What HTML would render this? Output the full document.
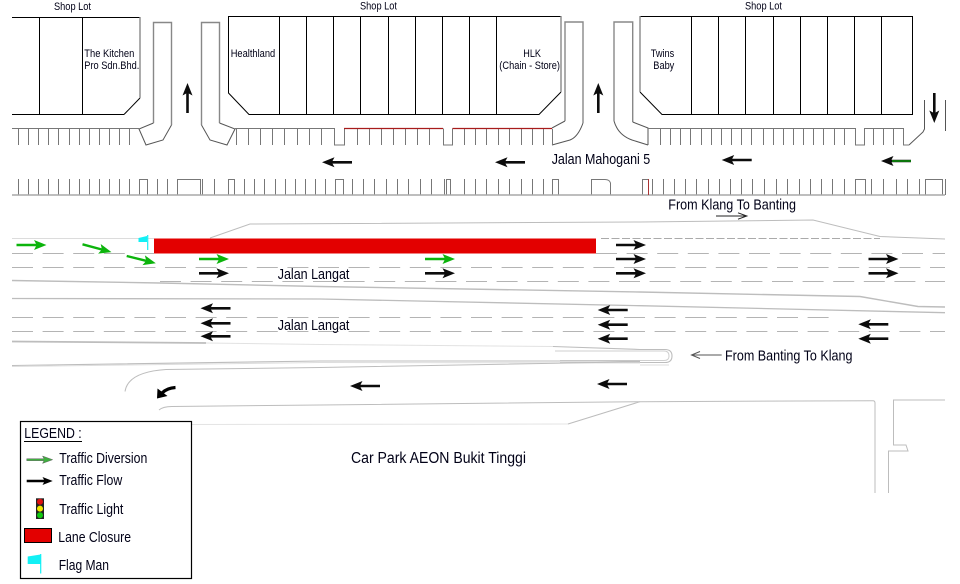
<!DOCTYPE html>
<html><head><meta charset="utf-8"><style>
html,body{margin:0;padding:0;background:#fff}
svg{display:block}
text{font-family:"Liberation Sans",Arial,sans-serif;fill:#000016}
</style></head><body>
<svg width="960" height="584" viewBox="0 0 960 584" xmlns="http://www.w3.org/2000/svg">
<defs>
<path id="k" d="M0,-1.3 H19.5 L17.5,-5 L30,0 L17.5,5 L19.5,1.3 H0 Z" fill="#0c0c0c"/>
<path id="g" d="M0,-1.2 H19.5 L17.5,-5 L30,0 L17.5,5 L19.5,1.2 H0 Z" fill="#0cb40c"/>
</defs>

<!-- shop blocks -->
<g fill="none" stroke="#000" stroke-width="1">
<path d="M12,17.5 H140 M124,114.5 H12 M39.5,17.5 V114.5 M82.5,17.5 V114.5 M140,98 L124,114.5"/>
<path d="M561,16.5 H228.5 V93 L249,114.5 H539 L561,92 M279.5,16.5 V114.5 M306.5,16.5 V114.5 M333.5,16.5 V115 M360.5,16.5 V114.5 M388.5,16.5 V114.5 M415.5,16.5 V114.5 M442.5,16.5 V114.5 M469.5,16.5 V114.5 M496.5,16.5 V114.5"/>
<path d="M640,16.5 H912.5 V114.5 H662 L640,92 M691.5,16.5 V114.5 M718.5,16.5 V114.5 M745.5,16.5 V114.5 M773.5,16.5 V114.5 M800.5,16.5 V114.5 M827.5,16.5 V114.5 M854.5,16.5 V114.5 M881.5,16.5 V114.5"/>
</g>
<g fill="none" stroke="#888" stroke-width="1.4">
<path d="M140,17 V98 M561,16 V92 M640,16 V92"/>
<path d="M153.5,123 V22.5 H171.5 V125"/>
<path d="M201.5,125 V22.5 H219.5 V123"/>
<path d="M565,121 V22 H583 V123"/>
<path d="M614,121 V22 H632.7 V122"/>
</g>
<!-- driveways -->
<g fill="none" stroke="#555" stroke-width="1">
<path d="M153.5,123 L139,129 L146,145 L163,140 L171.5,125"/>
<path d="M201.5,125 L210,140 L227,145 L235,129 L219.5,123"/>
<path d="M565,121 L552,128 M552,145 L570,140 Q578,137 583,123"/>
<path d="M614,121 Q618,135 632,140 L648,145 M632.7,122 L648,128 V145"/>
<path d="M909,145 L923,132 L924.5,129 V100 M945.5,100 V131"/>
</g>
<!-- top parking row -->
<g fill="none" stroke="#777" stroke-width="1">
<path d="M18.5,129v16M28.5,129v16M38.5,129v16M48.5,129v16M58.5,129v16M69.5,129v16M79.5,129v16M89.5,129v16M99.5,129v16M109.5,129v16M119.5,129v16M129.5,129v16"/>
<path d="M236.5,129v16M248.5,129v16M260.5,129v16M272.5,129v16M284.5,129v16M297.5,129v16M309.5,129v16M321.5,129v16"/>
<path d="M357.5,129v16M369.5,129v16M381.5,129v16M393.5,129v16M405.5,129v16M417.5,129v16M429.5,129v16"/>
<path d="M464.5,129v16M475.5,129v16M486.5,129v16M498.5,129v16M509.5,129v16M521.5,129v16M532.5,129v16M543.5,129v16M552.5,129v16"/>
<path d="M660.5,129v16M670.5,129v16M680.5,129v16M690.5,129v16M701.5,129v16M711.5,129v16M721.5,129v16M731.5,129v16M741.5,129v16M751.5,129v16M763.5,129v16M773.5,129v16M783.5,129v16M793.5,129v16M803.5,129v16M813.5,129v16M823.5,129v16M834.5,129v16M844.5,129v16"/>
<path d="M873.5,129v16M883.5,129v16M893.5,129v16"/>
<path d="M12,128.5 H139 M235,128.5 H334.5 V145 H344.5 V128.5 M443.5,128.5 V145 H452.5 V128.5 M648,128.5 H855.5 V145 H864.5 V128.5 H903.5 V145 H909"/>
</g>
<path d="M344,128.5 H443 M452.5,128.5 H552" stroke="#a81c1c" stroke-width="1.2" fill="none"/>

<!-- bottom parking row -->
<g fill="none" stroke="#777" stroke-width="1">
<path d="M18.5,179v16M28.5,179v16M38.5,179v16M48.5,179v16M58.5,179v16M69.5,179v16M79.5,179v16M89.5,179v16M99.5,179v16M109.5,179v16M119.5,179v16M129.5,179v16"/>
<path d="M157.5,179v16M167.5,179v16M214.5,179v16"/>
<path d="M244.5,179v16M254.5,179v16M264.5,179v16M275.5,179v16M285.5,179v16M295.5,179v16M305.5,179v16M315.5,179v16M325.5,179v16"/>
<path d="M352.5,179v16M363.5,179v16M374.5,179v16M386.5,179v16M397.5,179v16M408.5,179v16M420.5,179v16M431.5,179v16M444.5,179v16"/>
<path d="M464.5,179v16M475.5,179v16M486.5,179v16M498.5,179v16M509.5,179v16M521.5,179v16M532.5,179v16M543.5,179v16"/>
<path d="M652.5,179v16M663.5,179v16M674.5,179v16M685.5,179v16M696.5,179v16M708.5,179v16M719.5,179v16M730.5,179v16M741.5,179v16M752.5,179v16M764.5,179v16M776.5,179v16M787.5,179v16M799.5,179v16M810.5,179v16M821.5,179v16M832.5,179v16M844.5,179v16"/>
<path d="M871.5,179v16M883.5,179v16M896.5,179v16M907.5,179v16M919.5,179v16"/>
<path d="M139.5,195 V179.5 H147.5 V195 M177.5,195 V179.5 H200.5 V195 M202.5,179 V195 M228.5,195 V179.5 H234.5 V195 M335.5,195 V179.5 H343.5 V195 M446.5,195 V179.5 H450.5 V195 M552.5,195 V179.5 H558.5 V195 M591.5,195 V179.5 H605 Q609.5,179.5 610.5,183 V195 M642.5,195 V179.5 H648.5 V195 M855.5,195 V179.5 H865.5 V195 M925.5,195 V179.5 H942.5 V195 M945.5,179 V195"/>
</g>
<path d="M12,195 H945" stroke="#a8a8a8" stroke-width="1.6" fill="none"/>
<path d="M648.5,179 V195" stroke="#a33" stroke-width="1" fill="none"/>

<!-- road kerbs -->
<g fill="none" stroke="#bdbdbd" stroke-width="1">
<path d="M12,238.5 H154" stroke="#dcdcdc"/>
<path d="M210,238 L250,224 L640,222 L813,220 L880,236.5 L945,239"/>
<path d="M12,280.5 L160,283 L320,286.5 L640,292 L860,296.5 L918,306.5 L945,307" stroke-width="1.4"/>
<path d="M12,298.5 L320,299 L640,305.7 L945,312.7" stroke-width="1.3"/>
<path d="M12,341.5 L206,343" stroke-width="1.8"/>
<path d="M206,343 L320,344.5 L553,346.5" stroke="#e2e2e2"/>
<path d="M553,346.5 L640,349.5 H665 Q672,349.5 672,356 Q672,362.5 665,362.5 H560" stroke-width="1.1"/>
<path d="M555,351 H664 Q669,351 669,356 Q669,360.5 664,360.5 H560" stroke="#cfcfcf"/>
<path d="M640,365 H669" stroke="#dcdcdc"/>
<path d="M12,365.5 L320,361 L640,361" stroke-width="1.1"/>
<path d="M12,366.5 L320,362.5 L640,363" stroke="#dedede"/>
<path d="M125,391.5 Q128,372 166,369.5 L320,367.5 L640,361.7"/>
<path d="M159,410 Q163,406.5 172,406.5 L320,405 L640,401.7 L873,400.7 Q875,400.7 875,403 V493"/>
<path d="M192,424.5 L568,424" stroke="#e4e4e4"/>
<path d="M568,424 L640,401.7" stroke="#bcbcbc"/>
<path d="M945,400 H893.5 V445 H906 L908,451 H888.5 V493"/>
</g>
<!-- dashed lanes -->
<g fill="none" stroke="#b4b4b4" stroke-width="1" stroke-dasharray="21 9.6">
<path d="M12,253.5 H154"/>
<path d="M12,267.5 H945"/>
<path d="M160,281.5 H945"/>
<path d="M12,317.5 H829"/>
<path d="M12,331.5 H945"/>
<path d="M596,253.5 H945"/>
</g>
<path d="M601,238.5 H880" fill="none" stroke="#aaa" stroke-dasharray="8 2.5"/>

<!-- lane closure -->
<rect x="154" y="238.5" width="442" height="15" fill="#e30000"/>
<!-- flag -->
<path d="M138.5,238 L147,236 V242 H138.5 Z" fill="#12f0f5"/>
<path d="M147.7,235 V250" stroke="#12f0f5" stroke-width="1.2"/>

<!-- arrows -->
<use href="#g" transform="translate(16.5,245)"/>
<use href="#g" transform="translate(82.5,244.3) rotate(15)"/>
<use href="#g" transform="translate(126.7,256) rotate(14)"/>
<use href="#g" transform="translate(199,259)"/>
<use href="#g" transform="translate(425,259)"/>
<use href="#k" transform="translate(199,273.3)"/>
<use href="#k" transform="translate(425,273.3)"/>
<use href="#k" transform="translate(616,245)"/>
<use href="#k" transform="translate(616,259)"/>
<use href="#k" transform="translate(616,273.3)"/>
<use href="#k" transform="translate(868.5,259)"/>
<use href="#k" transform="translate(868.5,273.3)"/>
<use href="#k" transform="translate(230.5,308.3) rotate(180)"/>
<use href="#k" transform="translate(230.5,323.3) rotate(180)"/>
<use href="#k" transform="translate(230.5,336.3) rotate(180)"/>
<use href="#k" transform="translate(627.7,310) rotate(180)"/>
<use href="#k" transform="translate(627.7,324.7) rotate(180)"/>
<use href="#k" transform="translate(627.7,338.7) rotate(180)"/>
<use href="#k" transform="translate(888.3,324.3) rotate(180)"/>
<use href="#k" transform="translate(888.3,338.7) rotate(180)"/>
<use href="#k" transform="translate(380,386) rotate(180)"/>
<use href="#k" transform="translate(627,384) rotate(180)"/>
<use href="#k" transform="translate(352,162.3) rotate(180)"/>
<use href="#k" transform="translate(525,162.3) rotate(180)"/>
<use href="#k" transform="translate(751.7,160) rotate(180)"/>
<use href="#k" transform="translate(911,161) rotate(180)"/>
<path d="M892,161 H911" stroke="#0cb40c" stroke-width="1.2"/>
<use href="#k" transform="translate(187.5,113) rotate(-90)"/>
<use href="#k" transform="translate(598.3,113) rotate(-90)"/>
<use href="#k" transform="translate(934.3,93) rotate(90)"/>
<path d="M175.5,387.5 Q167,388 162,393" fill="none" stroke="#000" stroke-width="3.2"/>
<path d="M157,398.5 L157.5,388.5 L167.5,396 Z" fill="#000"/>
<path d="M716,216 H746.5 M738,212.8 L746.8,216 L738,219.2" fill="none" stroke="#222" stroke-width="1"/>
<path d="M721.7,355 H692 M700,351.5 L691.5,355 L700,358.5" fill="none" stroke="#555" stroke-width="1"/>

<!-- labels -->
<g font-size="11">
<text x="54" y="10" textLength="37" lengthAdjust="spacingAndGlyphs">Shop Lot</text>
<text x="360" y="9.5" textLength="37" lengthAdjust="spacingAndGlyphs">Shop Lot</text>
<text x="745" y="9.5" textLength="37" lengthAdjust="spacingAndGlyphs">Shop Lot</text>
<text x="84.3" y="57" textLength="50" lengthAdjust="spacingAndGlyphs">The Kitchen</text>
<text x="84.3" y="69" textLength="55" lengthAdjust="spacingAndGlyphs">Pro Sdn.Bhd.</text>
<text x="230.7" y="57" textLength="44.5" lengthAdjust="spacingAndGlyphs">Healthland</text>
<text x="523.3" y="57" textLength="17.7" lengthAdjust="spacingAndGlyphs">HLK</text>
<text x="499.3" y="69" textLength="60.7" lengthAdjust="spacingAndGlyphs">(Chain - Store)</text>
<text x="650.7" y="57" textLength="23.6" lengthAdjust="spacingAndGlyphs">Twins</text>
<text x="653.3" y="69" textLength="21" lengthAdjust="spacingAndGlyphs">Baby</text>
</g>
<g font-size="14.5">
<text x="551.7" y="164" textLength="98.5" lengthAdjust="spacingAndGlyphs">Jalan Mahogani 5</text>
<text x="668.3" y="209.5" textLength="127.7" lengthAdjust="spacingAndGlyphs">From Klang To Banting</text>
<text x="277.7" y="279" textLength="71.7" lengthAdjust="spacingAndGlyphs">Jalan Langat</text>
<text x="277.7" y="330" textLength="71.7" lengthAdjust="spacingAndGlyphs">Jalan Langat</text>
<text x="725" y="360.5" textLength="127.5" lengthAdjust="spacingAndGlyphs">From Banting To Klang</text>
</g>
<text x="351" y="463" font-size="15.5" textLength="175" lengthAdjust="spacingAndGlyphs">Car Park AEON Bukit Tinggi</text>

<!-- legend -->
<rect x="20.5" y="421.5" width="171" height="157" fill="#fff" stroke="#000" stroke-width="1.2"/>
<g font-size="14.5">
<text x="24.3" y="438" textLength="57.4" lengthAdjust="spacingAndGlyphs">LEGEND :</text>
<text x="59.3" y="463" textLength="88" lengthAdjust="spacingAndGlyphs">Traffic Diversion</text>
<text x="59.3" y="485" textLength="63" lengthAdjust="spacingAndGlyphs">Traffic Flow</text>
<text x="59.3" y="514" textLength="64" lengthAdjust="spacingAndGlyphs">Traffic Light</text>
<text x="58.3" y="542" textLength="72.7" lengthAdjust="spacingAndGlyphs">Lane Closure</text>
<text x="58.7" y="570" textLength="50.3" lengthAdjust="spacingAndGlyphs">Flag Man</text>
</g>
<path d="M24,441.5 H82" stroke="#000" stroke-width="1"/>
<path d="M26.7,458.7 H44 L42.5,456 L52.7,459.7 L42.5,463.4 L44,460.7 H26.7 Z" fill="#3fae3f" stroke="#666" stroke-width=".5"/>
<path d="M26.7,479.8 H44 L42.5,477 L52.7,481 L42.5,485 L44,482.2 H26.7 Z" fill="#000"/>
<rect x="36" y="498.3" width="8" height="20.7" fill="#222"/>
<circle cx="40" cy="501.8" r="3" fill="#e01010"/>
<circle cx="40" cy="508.6" r="3" fill="#f2e800"/>
<circle cx="40" cy="515.3" r="3" fill="#10c810"/>
<rect x="24.5" y="528.5" width="27" height="14" fill="#e30000" stroke="#000" stroke-width="1"/>
<path d="M27.7,556.5 L40.5,554.5 V564 H27.7 Z" fill="#12f0f5"/>
<path d="M40.7,554 V573.5" stroke="#12f0f5" stroke-width="1.2"/>
</svg>
</body></html>
